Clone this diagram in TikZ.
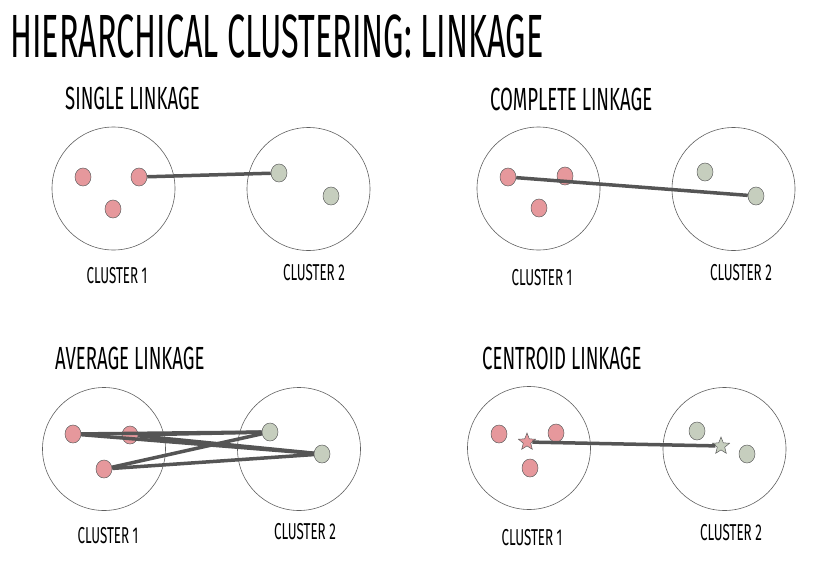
\documentclass[tikz,border=0pt]{standalone}
\usepackage{fontspec}
\usepackage{xcolor}
\usepackage{tikz}
\usetikzlibrary{shapes.geometric}
\newfontfamily\handfont{Fira Sans}[FakeStretch=0.58]
\newfontfamily\titlefont{Fira Sans}[FakeStretch=0.53]
\definecolor{dotRed}{RGB}{230,152,156}
\definecolor{dotGreen}{RGB}{198,206,190}
\definecolor{linkGray}{RGB}{85,85,85}
\definecolor{rimGray}{RGB}{95,95,95}
\tikzset{
  rim/.style={draw=rimGray, line width=0.6pt},          % cluster circle
  ptA/.style={ellipse, draw=rimGray, fill=dotRed, line width=0.5pt,
    minimum width=16pt, minimum height=18pt, inner sep=0pt},
  ptB/.style={ptA, fill=dotGreen},
  cenA/.style={star, star points=5, star point ratio=2.3, draw=rimGray,
    fill=dotRed, line width=0.5pt, minimum size=18pt, inner sep=0pt},
  cenB/.style={cenA, fill=dotGreen},
  link/.style={draw=linkGray, line width=3.5pt},
  headline/.style={anchor=base west, inner sep=0pt,
    font=\handfont\fontsize{32}{32}\selectfont},
  tag/.style={anchor=base, inner sep=0pt,
    font=\handfont\fontsize{23}{23}\selectfont}
}

\begin{document}
\begin{tikzpicture}[x=1pt, y=-1pt]
  \useasboundingbox (0,0) rectangle (814,565);
  \node[anchor=base west, inner sep=0pt,
    font=\titlefont\fontsize{61}{61}\selectfont] (title) at (10,57)
    {HIERARCHICAL CLUSTERING: LINKAGE};

  % single linkage
  \node[headline] (hSingle) at (65,109) {SINGLE LINKAGE};
  \draw[rim] (113.5,188.5) circle[radius=61.5pt];
  \draw[rim] (308.5,189) circle[radius=61.5pt];
  \node[ptA] (s1) at (83,177) {};
  \node[ptA] (s2) at (139,177) {};
  \node[ptA] (s3) at (113,209) {};
  \node[ptB] (s4) at (279,173) {};
  \node[ptB] (s5) at (331,196) {};
  \draw[link] (s2) -- (s4);
  \node[tag] (sC1) at (117,283) {CLUSTER 1};
  \node[tag] (sC2) at (314,280) {CLUSTER 2};

  % complete linkage
  \node[headline] (hComplete) at (490,110) {COMPLETE LINKAGE};
  \draw[rim] (538.5,188.5) circle[radius=61.5pt];
  \draw[rim] (733.5,189) circle[radius=61.5pt];
  \node[ptA] (c1) at (508,177) {};
  \node[ptA] (c2) at (565,176) {};
  \node[ptA] (c3) at (539,208) {};
  \node[ptB] (c4) at (705,172) {};
  \node[ptB] (c5) at (756,196) {};
  \draw[link] (c1) -- (c5);
  \node[tag] (cC1) at (542,285) {CLUSTER 1};
  \node[tag] (cC2) at (741,280) {CLUSTER 2};

  % average linkage
  \node[headline] (hAverage) at (55,369) {AVERAGE LINKAGE};
  \draw[rim] (104,449) circle[radius=61.5pt];
  \draw[rim] (299,449) circle[radius=61.5pt];
  \node[ptA] (a1) at (73,434) {};
  \node[ptA] (a2) at (130,435) {};
  \node[ptA] (a3) at (104,469) {};
  \node[ptB] (a4) at (270,432) {};
  \node[ptB] (a5) at (322,454) {};
  \foreach \p in {a1,a2,a3}{
    \foreach \q in {a4,a5}{
      \draw[link] (\p) -- (\q);
    }
  }
  \node[tag] (aC1) at (108,543) {CLUSTER 1};
  \node[tag] (aC2) at (305,539) {CLUSTER 2};

  % centroid linkage
  \node[headline] (hCentroid) at (482,369) {CENTROID LINKAGE};
  \draw[rim] (529,448) circle[radius=61.5pt];
  \draw[rim] (724.5,449) circle[radius=61.5pt];
  \node[ptA] (m1) at (499,434) {};
  \node[ptA] (m2) at (556,433) {};
  \node[ptA] (m3) at (530,468) {};
  \node[ptB] (m4) at (697,431) {};
  \node[ptB] (m5) at (747,454) {};
  \node[cenA] (mA) at (527,442) {};
  \node[cenB] (mB) at (721,446) {};
  \draw[link] (mA) -- (mB);
  \node[tag] (mC1) at (532,545) {CLUSTER 1};
  \node[tag] (mC2) at (731,540) {CLUSTER 2};
\end{tikzpicture}
\end{document}
